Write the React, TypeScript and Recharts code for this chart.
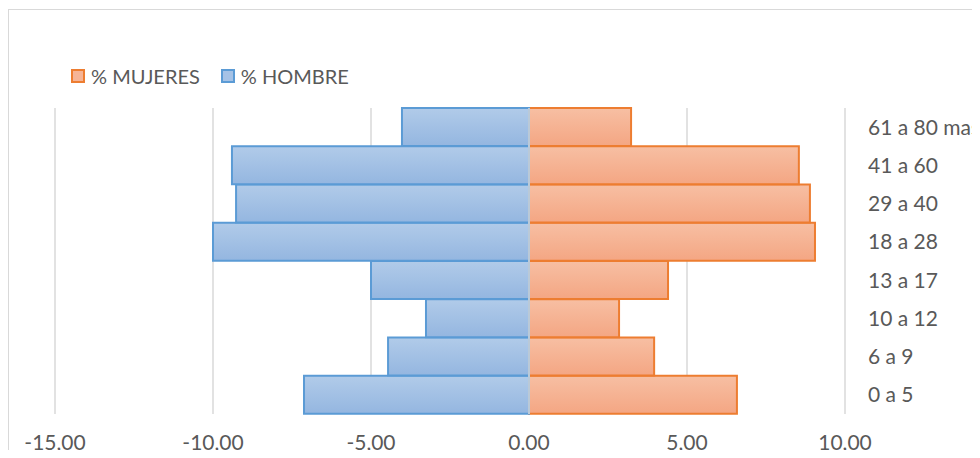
import { BarChart, Bar, XAxis, YAxis, CartesianGrid, Legend, ReferenceLine } from 'recharts'

const categories = ['0 a 5', '6 a 9', '10 a 12', '13 a 17', '18 a 28', '29 a 40', '41 a 60', '61 a 80 mas']
const mujeres = [6.58, 3.96, 2.85, 4.4, 9.05, 8.89, 8.54, 3.23]
const hombre = [-7.12, -4.46, -3.26, -5.0, -10.0, -9.27, -9.4, -4.02]
const xTicks = [-15, -10, -5, 0, 5, 10]
const seriesNames = ['% MUJERES', '% HOMBRE']

const data = categories.map((name, i) => ({ name, mujeres: mujeres[i], hombre: hombre[i] }))

const FONT = 'Lato, Carlito, Calibri, sans-serif'
const GREY = '#595959'

const fmt = (v: number) => v.toFixed(2).replace('.', ',')

function LegendBox({ payload }: { payload?: any[] }) {
  const items = [...(payload || [])].sort(
    (a, b) => seriesNames.indexOf(a.value) - seriesNames.indexOf(b.value),
  )
  return (
    <div style={{ display: 'flex', alignItems: 'center', fontFamily: FONT, fontSize: 20, color: GREY }}>
      {items.map(p => (
        <div key={p.value} style={{ display: 'flex', alignItems: 'center', marginRight: 21 }}>
          <span
            style={{
              display: 'inline-block',
              boxSizing: 'border-box',
              width: 14,
              height: 14,
              border: `2px solid ${p.value === seriesNames[0] ? '#ed7d31' : '#5b9bd5'}`,
              background: p.value === seriesNames[0] ? '#f6b496' : '#a5c2e6',
              marginRight: 6,
            }}
          />
          <span>{p.value}</span>
        </div>
      ))}
    </div>
  )
}

export default function App() {
  return (
    <div style={{ position: 'relative', margin: -8, width: 980, height: 458, overflow: 'hidden', background: '#fff' }}>
      <div
        style={{
          position: 'absolute',
          left: 8,
          top: 9,
          width: 1000,
          height: 500,
          border: '1px solid #d9d9d9',
        }}
      />
      <div style={{ position: 'absolute', left: 0, top: 0 }}>
        <BarChart
          width={980}
          height={458}
          data={data}
          layout="vertical"
          stackOffset="sign"
          barCategoryGap={0}
          margin={{ top: 108, right: 35, bottom: 14, left: 55 }}
        >
          <defs>
            <linearGradient id="gBlue" x1="0" y1="0" x2="0" y2="1">
              <stop offset="0%" stopColor="#b1cbe9" />
              <stop offset="100%" stopColor="#94b6e0" />
            </linearGradient>
            <linearGradient id="gOrange" x1="0" y1="0" x2="0" y2="1">
              <stop offset="0%" stopColor="#f7bfa3" />
              <stop offset="100%" stopColor="#f4a683" />
            </linearGradient>
          </defs>
          <CartesianGrid horizontal={false} stroke="#d9d9d9" strokeWidth={1.5} />
          <XAxis
            type="number"
            domain={[-15, 10]}
            ticks={xTicks}
            tickFormatter={fmt}
            axisLine={false}
            tickLine={false}
            tickSize={0}
            tickMargin={21}
            height={30}
            interval={0}
            tick={{ fill: GREY, fontSize: 21, fontFamily: FONT }}
          />
          <YAxis
            type="category"
            dataKey="name"
            orientation="right"
            reversed
            width={100}
            axisLine={false}
            tickLine={false}
            tickSize={0}
            tickMargin={23}
            interval={0}
            tick={{ fill: GREY, fontSize: 21, fontFamily: FONT, textAnchor: 'start' }}
          />
          <Legend
            content={<LegendBox />}
            layout="horizontal"
            verticalAlign="middle"
            align="center"
            wrapperStyle={{ top: 64, left: 71, width: 'auto' }}
          />
          <Bar
            dataKey="mujeres"
            name={seriesNames[0]}
            stackId="a"
            fill="url(#gOrange)"
            stroke="#ed7d31"
            strokeWidth={2}
            isAnimationActive={false}
          />
          <Bar
            dataKey="hombre"
            name={seriesNames[1]}
            stackId="a"
            fill="url(#gBlue)"
            stroke="#5b9bd5"
            strokeWidth={2}
            isAnimationActive={false}
          />
          <ReferenceLine x={0} stroke="#d9d9d9" strokeWidth={1.5} />
        </BarChart>
      </div>
    </div>
  )
}
